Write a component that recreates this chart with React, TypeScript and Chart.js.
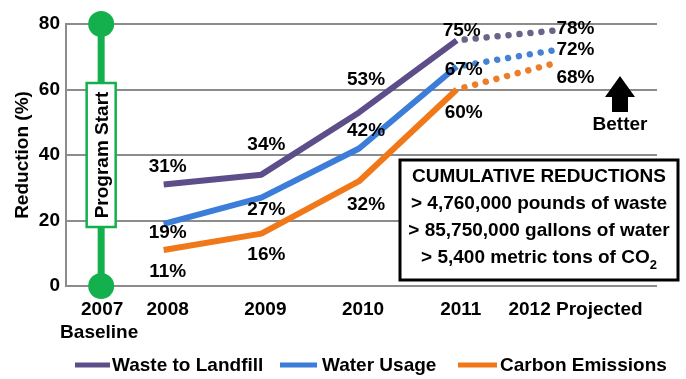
import React, { useEffect, useRef } from "react";
import { Chart, registerables } from "chart.js";

Chart.register(...registerables);

// ---- data ----
const YEARS = [2008, 2009, 2010, 2011, 2012];
const X_LABELS = ["2008", "2009", "2010", "2011", "2012 Projected"];
const BASELINE_LABEL = ["2007", "Baseline"];
const BASELINE_X = 2007.36;
const WASTE = [31, 34, 53, 75, 78];
const WATER = [19, 27, 42, 67, 72];
const CARBON = [11, 16, 32, 60, 68];
const Y_TICKS = [0, 20, 40, 60, 80];
const SERIES_NAMES = ["Waste to Landfill", "Water Usage", "Carbon Emissions"];
const PROGRAM_LABEL = "Program Start";
const BOX_TITLE = "CUMULATIVE REDUCTIONS";
const BOX_LINES = ["> 4,760,000 pounds of waste", "> 85,750,000 gallons of water", "> 5,400 metric tons of CO"];
const BETTER_LABEL = "Better";

// ---- styles ----
const FAMILY = "'Liberation Sans', Arial, sans-serif";
const FONT = "bold 19px " + FAMILY;
const COLORS = ["#5d4e8a", "#3b7dd8", "#f07818"];
const PROJ_COLORS = ["#6a6488", "#4682d2", "#ec7e2a"];
const GREEN = "#14b04e";
const GRID = "#8c8c8c";

// label offsets (dx, dy) from each point, per series
const LABEL_OFFSETS = [
  [[4, -18], [5, -30], [7, -33], [5, -10], [21, -2]],
  [[4, 9], [5, 12], [7, -18], [7, 3], [21, 0]],
  [[4, 22], [5, 21], [7, 24], [7, 23], [21, 14]],
];

function lineDataset(label: string, values: number[], i: number) {
  return {
    label,
    data: YEARS.map((x, k) => ({ x, y: values[k] })),
    borderColor: COLORS[i],
    backgroundColor: COLORS[i],
    borderWidth: 6,
    pointRadius: 0,
    borderJoinStyle: "round" as const,
    tension: 0,
    segment: {
      borderDash: (ctx: any) => (ctx.p1DataIndex === 4 ? [0.01, 11] : undefined),
      borderDashOffset: (ctx: any) => (ctx.p1DataIndex === 4 ? -8 : undefined),
      borderCapStyle: (ctx: any) => (ctx.p1DataIndex === 4 ? "round" : undefined),
      borderWidth: (ctx: any) => (ctx.p1DataIndex === 4 ? 6.5 : undefined),
      borderColor: (ctx: any) => (ctx.p1DataIndex === 4 ? PROJ_COLORS[i] : undefined),
    },
  };
}

const overlay = {
  id: "overlay",
  afterDraw(chart: any) {
    const ctx = chart.ctx as CanvasRenderingContext2D;
    const xs = chart.scales.x;
    const area = chart.chartArea;
    ctx.save();
    ctx.fillStyle = "#000";
    ctx.font = FONT;
    ctx.textBaseline = "middle";

    // data labels
    for (let d = 0; d < 3; d++) {
      const meta = chart.getDatasetMeta(d);
      const vals = chart.data.datasets[d].data;
      meta.data.forEach((pt: any, k: number) => {
        const [dx, dy] = LABEL_OFFSETS[d][k];
        ctx.textAlign = "center";
        ctx.fillText(vals[k].y + "%", pt.x + dx, pt.y + dy);
      });
    }

    // program start box
    const bx = xs.getPixelForValue(BASELINE_X);
    const midY = (area.top + area.bottom) / 2;
    const bw = 29, bh = 144;
    ctx.fillStyle = "#fff";
    ctx.fillRect(bx - bw / 2, midY - bh / 2, bw, bh);
    ctx.strokeStyle = GREEN;
    ctx.lineWidth = 2.5;
    ctx.strokeRect(bx - bw / 2, midY - bh / 2, bw, bh);
    ctx.save();
    ctx.translate(bx + 1, midY);
    ctx.rotate(-Math.PI / 2);
    ctx.fillStyle = "#000";
    ctx.textAlign = "center";
    ctx.fillText(PROGRAM_LABEL, 0, 1);
    ctx.restore();

    // cumulative box
    const cx0 = 400, cy0 = 160, cw = 278, ch = 120;
    ctx.fillStyle = "#fff";
    ctx.fillRect(cx0, cy0, cw, ch);
    ctx.strokeStyle = "#000";
    ctx.lineWidth = 3;
    ctx.strokeRect(cx0, cy0, cw, ch);
    ctx.fillStyle = "#000";
    ctx.textAlign = "center";
    const ccx = cx0 + cw / 2;
    ctx.fillText(BOX_TITLE, ccx, 177);
    ctx.fillText(BOX_LINES[0], ccx, 204);
    ctx.fillText(BOX_LINES[1], ccx, 231);
    // last line with subscript 2
    const last = BOX_LINES[2];
    ctx.font = FONT;
    const w1 = ctx.measureText(last).width;
    ctx.font = "bold 13px " + FAMILY;
    const w2 = ctx.measureText("2").width;
    const sx = ccx - (w1 + w2) / 2;
    ctx.font = FONT;
    ctx.textAlign = "left";
    ctx.fillText(last, sx, 258);
    ctx.font = "bold 13px " + FAMILY;
    ctx.fillText("2", sx + w1, 265);
    ctx.font = FONT;

    // arrow + Better
    const ax = 620;
    ctx.beginPath();
    ctx.moveTo(ax, 76);
    ctx.lineTo(ax + 15, 97);
    ctx.lineTo(ax + 8, 97);
    ctx.lineTo(ax + 8, 112);
    ctx.lineTo(ax - 8, 112);
    ctx.lineTo(ax - 8, 97);
    ctx.lineTo(ax - 15, 97);
    ctx.closePath();
    ctx.fill();
    ctx.textAlign = "center";
    ctx.fillText(BETTER_LABEL, ax, 125);

    // x labels
    const ly = 310;
    ctx.textAlign = "center";
    ctx.fillText(BASELINE_LABEL[0], bx + 1, ly);
    ctx.fillText(BASELINE_LABEL[1], bx - 2, ly + 23);
    YEARS.forEach((y, k) => {
      const px = xs.getPixelForValue(y);
      if (k === YEARS.length - 1) {
        ctx.textAlign = "left";
        ctx.fillText(X_LABELS[k], px - 46, ly);
      } else {
        ctx.textAlign = "center";
        ctx.fillText(X_LABELS[k], px + 4, ly);
      }
    });

    // legend
    const legY = 366;
    const legItems = [
      [75, 110, 112],
      [280, 317, 322],
      [458, 497, 500],
    ];
    SERIES_NAMES.forEach((name, i) => {
      const [l0, l1, t0] = legItems[i];
      ctx.strokeStyle = COLORS[i];
      ctx.lineWidth = 5;
      ctx.beginPath();
      ctx.moveTo(l0, legY - 1);
      ctx.lineTo(l1, legY - 1);
      ctx.stroke();
      ctx.fillStyle = "#000";
      ctx.textAlign = "left";
      ctx.fillText(name, t0, legY);
    });

    ctx.restore();
  },
};

export default function App() {
  const ref = useRef<HTMLCanvasElement | null>(null);
  useEffect(() => {
    document.body.style.margin = "0";
    const canvas = ref.current!;
    const chart = new Chart(canvas, {
      type: "line",
      data: {
        datasets: [
          lineDataset(SERIES_NAMES[0], WASTE, 0),
          lineDataset(SERIES_NAMES[1], WATER, 1),
          lineDataset(SERIES_NAMES[2], CARBON, 2),
          {
            label: PROGRAM_LABEL,
            data: [
              { x: BASELINE_X, y: Y_TICKS[0] },
              { x: BASELINE_X, y: Y_TICKS[Y_TICKS.length - 1] },
            ],
            borderColor: GREEN,
            backgroundColor: GREEN,
            borderWidth: 7,
            pointRadius: 13,
            pointBorderWidth: 0,
            clip: false as any,
          },
        ] as any,
      },
      options: {
        animation: false,
        responsive: false,
        maintainAspectRatio: false,
        layout: { padding: { top: 24, right: 29, bottom: 93, left: 0 } },
        plugins: { legend: { display: false }, tooltip: { enabled: false } },
        scales: {
          x: { type: "linear", display: false, min: 2007, max: 2013.05 },
          y: {
            min: 0,
            max: 80,
            afterFit: (s: any) => {
              s.width = 66;
            },
            afterBuildTicks: (s: any) => {
              s.ticks = Y_TICKS.map((v) => ({ value: v }));
            },
            ticks: { font: { family: FAMILY, size: 19, weight: "bold" }, color: "#000", padding: 6 },
            grid: { color: GRID, lineWidth: 2, drawTicks: false },
            border: { display: true, color: GRID, width: 2 },
            title: {
              display: true,
              text: "Reduction (%)",
              font: { family: FAMILY, size: 19, weight: "bold" },
              color: "#000",
              padding: { top: 11, bottom: 0 },
            },
          },
        },
      } as any,
      plugins: [overlay],
    });
    return () => chart.destroy();
  }, []);
  return (
    <div style={{ width: 686, height: 379, background: "#fff" }}>
      <canvas ref={ref} width={686} height={379} style={{ display: "block", width: 686, height: 379 }} />
    </div>
  );
}
